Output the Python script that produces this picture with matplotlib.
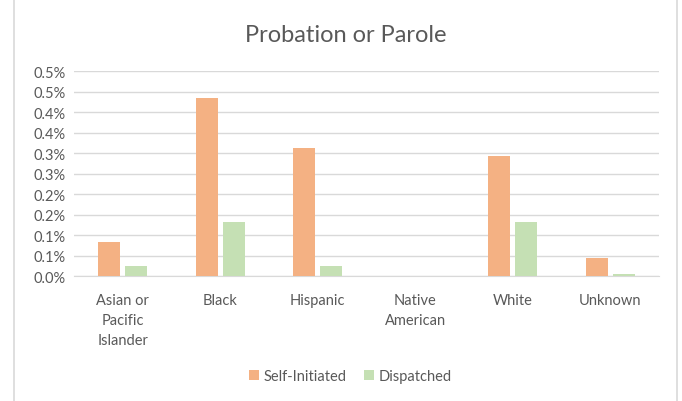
import numpy as np
import matplotlib.pyplot as plt
from matplotlib.lines import Line2D

categories = ['Asian or\nPacific\nIslander', 'Black', 'Hispanic', 'Native\nAmerican', 'White', 'Unknown']
self_initiated = [0.084, 0.434, 0.313, 0.0, 0.293, 0.045]
dispatched = [0.025, 0.132, 0.025, 0.0, 0.132, 0.006]
y_ticks = [0.0, 0.05, 0.1, 0.15, 0.2, 0.25, 0.3, 0.35, 0.4, 0.45, 0.5]
y_labels = ['0.0%', '0.1%', '0.1%', '0.2%', '0.2%', '0.3%', '0.3%', '0.4%', '0.4%', '0.5%', '0.5%']

plt.rcParams['font.family'] = ['Lato', 'DejaVu Sans']
text_col = '#595959'

fig = plt.figure(figsize=(6.82, 4.02), dpi=100)
ax = fig.add_axes([74 / 682, 1 - 277.3 / 402, 585 / 682, 205 / 402])

x = np.arange(len(categories))
w = 0.225
ax.bar(x - 0.14, self_initiated, w, color='#F4B183', label='Self-Initiated', zorder=3)
ax.bar(x + 0.14, dispatched, w, color='#C5E0B4', label='Dispatched', zorder=3)

ax.set_xlim(-0.5, len(categories) - 0.5)
ax.set_ylim(0, 0.5)
ax.set_yticks(y_ticks)
ax.set_yticklabels(y_labels)
ax.set_xticks(x)
ax.set_xticklabels(categories, linespacing=1.55)
ax.tick_params(axis='both', length=0, colors=text_col, labelsize=10.5)
ax.tick_params(axis='y', pad=6)
ax.tick_params(axis='x', pad=12)
ax.grid(axis='y', color='#D9D9D9', linewidth=1, zorder=0)
for s in ['top', 'right', 'left']:
    ax.spines[s].set_visible(False)
ax.spines['bottom'].set_color('#D9D9D9')

fig.text(0.507, 1 - 35 / 402, 'Probation or Parole', ha='center', va='center',
         fontsize=17, color=text_col)

ax.legend(loc='center', bbox_to_anchor=(350 / 682, 1 - 377 / 402),
          bbox_transform=fig.transFigure, ncol=2, frameon=False,
          fontsize=10.5, labelcolor=text_col, handlelength=0.7, handleheight=0.7,
          handletextpad=0.3, columnspacing=1.2)

# chart frame, only the side edges are in view
for xe in (14 / 682, 677 / 682):
    fig.lines.append(Line2D([xe, xe], [0, 1], transform=fig.transFigure,
                            color='#D9D9D9', linewidth=1.2))

fig.savefig('out.png', dpi=100)
